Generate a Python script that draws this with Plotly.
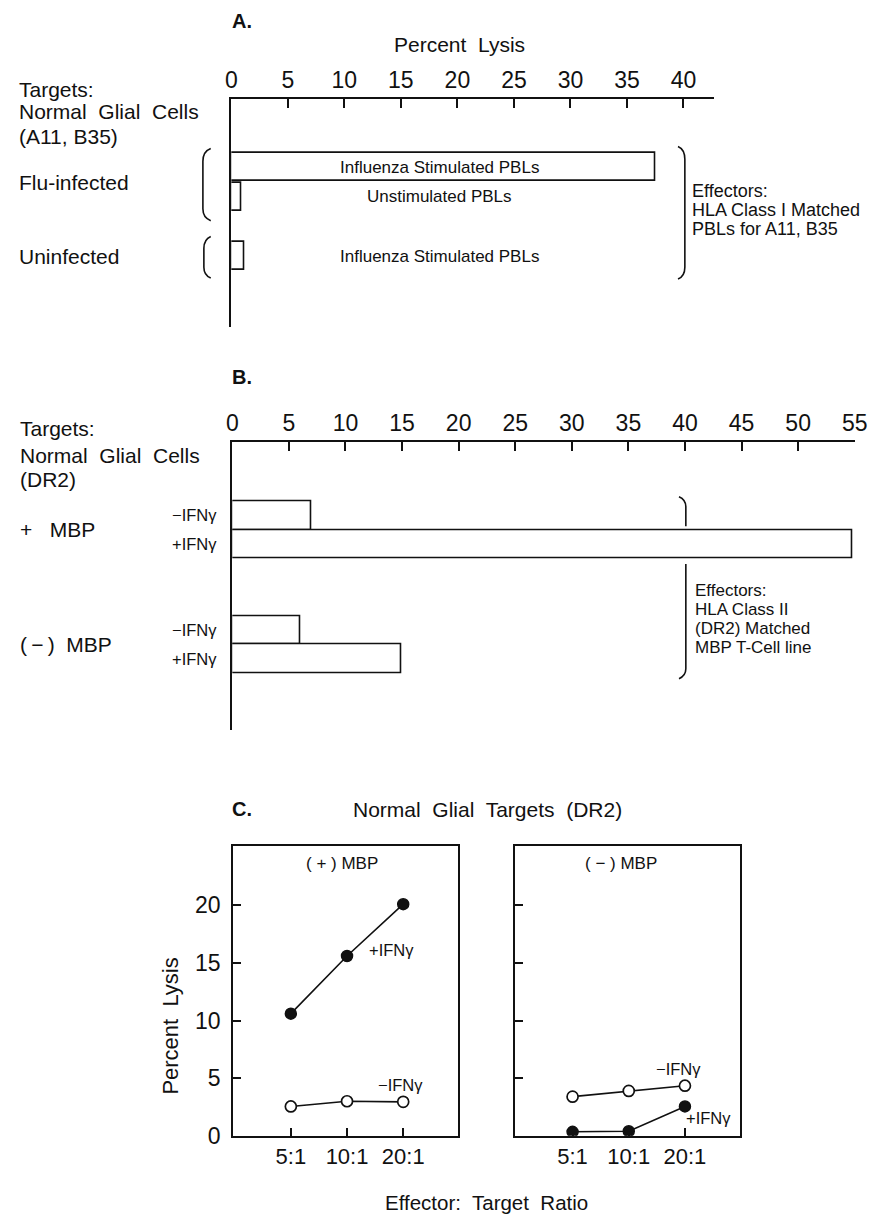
import plotly.graph_objects as go

W, H = 882, 1228

# ---------------- data ----------------
# Panel A: targets normal glial cells (A11, B35)
a_targets = ["Flu-infected", "Flu-infected", "Uninfected"]
a_effectors = ["Influenza Stimulated PBLs", "Unstimulated PBLs", "Influenza Stimulated PBLs"]
a_lysis = [37.5, 0.9, 1.15]
a_ticks = [0, 5, 10, 15, 20, 25, 30, 35, 40]

# Panel B: targets normal glial cells (DR2)
b_targets = ["+   MBP", "+   MBP", "(\u2009\u2212\u2009)  MBP", "(\u2009\u2212\u2009)  MBP"]
b_treatment = ["\u2212IFN\u03b3", "+IFN\u03b3", "\u2212IFN\u03b3", "+IFN\u03b3"]
b_lysis = [7.0, 54.8, 6.0, 14.9]
b_ticks = [0, 5, 10, 15, 20, 25, 30, 35, 40, 45, 50, 55]

# Panel C: percent lysis vs effector:target ratio
c_ratios = ["5:1", "10:1", "20:1"]
c_pos_mbp_plus_ifn = [10.6, 15.6, 20.1]
c_pos_mbp_minus_ifn = [2.55, 3.0, 2.95]
c_neg_mbp_minus_ifn = [3.4, 3.9, 4.35]
c_neg_mbp_plus_ifn = [0.35, 0.4, 2.55]
c_yticks = [0, 5, 10, 15, 20]

FONT = "Liberation Sans, Arial, Helvetica, sans-serif"
INK = "#111111"


def px(x):
    return x / W


def py(y):
    return 1 - y / H


def slots(groups, gap):
    out, prev, s = [], None, -1
    for g in groups:
        if prev is not None and g != prev:
            s += gap
        prev = g
        s += 1
        out.append(s)
    return out


a_slots = slots(a_targets, 1)
b_slots = slots(b_targets, 2)

fig = go.Figure()

bar_style = dict(marker=dict(color="white", line=dict(color=INK, width=1.6)),
                 orientation="h", hoverinfo="x+y")

fig.add_trace(go.Bar(x=a_lysis, y=a_slots, width=0.95, xaxis="x", yaxis="y", **bar_style))
fig.add_trace(go.Bar(x=b_lysis, y=b_slots, width=1.0, xaxis="x2", yaxis="y2", **bar_style))

line = dict(color=INK, width=1.6)
filled = dict(color=INK, size=11, line=dict(color=INK, width=1.5))
hollow = dict(color="white", size=11, line=dict(color=INK, width=1.7))
fig.add_trace(go.Scatter(x=c_ratios, y=c_pos_mbp_plus_ifn, mode="lines+markers",
                         line=line, marker=filled, xaxis="x3", yaxis="y3"))
fig.add_trace(go.Scatter(x=c_ratios, y=c_pos_mbp_minus_ifn, mode="lines+markers",
                         line=line, marker=hollow, xaxis="x3", yaxis="y3"))
fig.add_trace(go.Scatter(x=c_ratios, y=c_neg_mbp_minus_ifn, mode="lines+markers",
                         line=line, marker=hollow, xaxis="x4", yaxis="y4"))
fig.add_trace(go.Scatter(x=c_ratios, y=c_neg_mbp_plus_ifn, mode="lines+markers",
                         line=line, marker=filled, xaxis="x4", yaxis="y4"))

tickfont = dict(family=FONT, size=23, color=INK)
common_x = dict(showline=True, linecolor=INK, linewidth=1.6, showgrid=False,
                zeroline=False, tickcolor=INK, tickwidth=1.6, tickfont=tickfont)
cat_x = dict(common_x, tickfont=dict(family=FONT, size=22, color=INK))

layout = dict(
    width=W, height=H, margin=dict(l=0, r=0, t=0, b=0),
    paper_bgcolor="white", plot_bgcolor="white", showlegend=False,
    font=dict(family=FONT, color=INK),
    bargap=0,
    # Panel A
    xaxis=dict(domain=[px(230), px(723)], range=[0, 42.72], side="top",
               anchor="y", ticks="inside", ticklen=9, tickvals=a_ticks,
               ticklabelstandoff=0, **common_x),
    yaxis=dict(domain=[py(330), py(100)], range=[5.37, -2.3], anchor="x",
               showline=True, linecolor=INK, linewidth=1.6, showgrid=False,
               zeroline=False, showticklabels=False, ticks=""),
    # Panel B
    xaxis2=dict(domain=[px(231), px(867)], range=[0, 55.05], side="top",
                anchor="y2", ticks="inside", ticklen=9, tickvals=b_ticks,
                ticklabelstandoff=0, **common_x),
    yaxis2=dict(domain=[py(738), py(447)], range=[7.48, -2.55], anchor="x2",
                showline=True, linecolor=INK, linewidth=1.6, showgrid=False,
                zeroline=False, showticklabels=False, ticks=""),
    # Panel C left
    xaxis3=dict(domain=[px(231.7), px(461.7)], range=[-1.03, 2.98], anchor="y3",
                type="category", categoryorder="array", categoryarray=c_ratios,
                ticks="inside", ticklen=8, mirror=True,
                ticklabelstandoff=0, **cat_x),
    yaxis3=dict(domain=[py(1148), py(855)], range=[0, 25.15], anchor="x3",
                ticks="inside", ticklen=8, tickvals=c_yticks, mirror=True,
                ticklabelstandoff=6, **common_x),
    # Panel C right
    xaxis4=dict(domain=[px(519.3), px(749.3)], range=[-1.03, 2.98], anchor="y4",
                type="category", categoryorder="array", categoryarray=c_ratios,
                ticks="inside", ticklen=8, mirror=True,
                ticklabelstandoff=0, **cat_x),
    yaxis4=dict(domain=[py(1148), py(855)], range=[0, 25.15], anchor="x4",
                ticks="inside", ticklen=8, tickvals=c_yticks, mirror=True,
                showticklabels=False, **common_x),
)
fig.update_layout(**layout)

ann = []


def txt(x, y, text, size, xanchor="left", bold=False, xref="paper", yref="paper",
        angle=0):
    xx = px(x) if xref == "paper" else x
    yy = py(y) if yref == "paper" else y
    ann.append(dict(x=xx, y=yy, xref=xref, yref=yref, text=("<b>%s</b>" % text) if bold else text,
                    showarrow=False, xanchor=xanchor, yanchor="middle", textangle=angle,
                    font=dict(family=FONT, size=size, color=INK)))


# Panel A texts
txt(229, 21, "A.", 20, bold=True)
txt(463, 45, "Percent  Lysis", 21, xanchor="center")
txt(11, 90, "Targets:", 21)
txt(11, 113, "Normal  Glial  Cells", 21)
txt(11, 138, "(A11, B35)", 21)
seen = {}
for t, s in zip(a_targets, a_slots):
    seen.setdefault(t, []).append(s)
for t, ss in seen.items():
    txt(11, sum(ss) / len(ss), t, 21, yref="y")
for e, s in zip(a_effectors, a_slots):
    txt(18.4, s, e, 17, xanchor="center", xref="x", yref="y")
for i, l in enumerate(["Effectors:", "HLA Class I Matched", "PBLs for A11, B35"]):
    txt(698, 193 + 19 * i, l, 18)

# Panel B texts
txt(229, 381, "B.", 20, bold=True)
txt(12, 433, "Targets:", 21)
txt(12, 460, "Normal  Glial  Cells", 21)
txt(12, 485, "(DR2)", 21)
seen = {}
for t, s in zip(b_targets, b_slots):
    seen.setdefault(t, []).append(s)
for t, ss in seen.items():
    txt(12, sum(ss) / len(ss), t, 21, yref="y2")
for tr, s in zip(b_treatment, b_slots):
    txt(217, s, tr, 16.5, xanchor="right", xref="paper", yref="y2")
for i, l in enumerate(["Effectors:", "HLA Class II", "(DR2) Matched", "MBP T-Cell line"]):
    txt(701, 597 + 19 * i, l, 17)

# Panel C texts
txt(229, 818, "C.", 20, bold=True)
txt(492, 818, "Normal  Glial  Targets  (DR2)", 21, xanchor="center")
txt(343, 873, "( + ) MBP", 17, xanchor="center")
txt(628, 873, "( \u2212 ) MBP", 17, xanchor="center")
txt(369, 960, "+IFN\u03b3", 16.5)
txt(378, 1097, "\u2212IFN\u03b3", 16.5)
txt(661, 1080, "\u2212IFN\u03b3", 16.5)
txt(692, 1130, "+IFN\u03b3", 16.5)
txt(167, 1037, "Percent  Lysis", 22, xanchor="center", angle=-90)
txt(490, 1215, "Effector:  Target  Ratio", 20.5, xanchor="center")

fig.update_layout(annotations=ann)


def path(points):
    parts = []
    for p in points:
        cmd = p[0]
        vals = p[1:]
        coords = []
        for i in range(0, len(vals), 2):
            coords.append("%.5f,%.5f" % (px(vals[i]), py(vals[i + 1])))
        parts.append(cmd + " " + " ".join(coords))
    return " ".join(parts)


brackets = [
    # left "(" for Flu-infected
    [("M", 209, 150), ("Q", 201, 153, 201, 163), ("L", 201, 211), ("Q", 201, 220, 209, 223)],
    # left "(" for Uninfected
    [("M", 209, 239), ("Q", 202, 242, 202, 251), ("L", 202, 270), ("Q", 202, 278, 209, 281)],
    # right bracket A
    [("M", 686, 148), ("Q", 693, 151, 693, 161), ("L", 693, 270), ("Q", 693, 279, 686, 282)],
    # right bracket B upper
    [("M", 687, 502), ("Q", 694, 505, 694, 512), ("L", 694, 532)],
    # right bracket B lower
    [("M", 694, 570), ("L", 694, 676), ("Q", 694, 683, 687, 686)],
]
shapes = [dict(type="path", xref="paper", yref="paper", path=path(b),
               line=dict(color=INK, width=1.6)) for b in brackets]
fig.update_layout(shapes=shapes)

fig.write_html("out.html", config={"displayModeBar": False},
               post_script="document.body.style.margin='0';")
